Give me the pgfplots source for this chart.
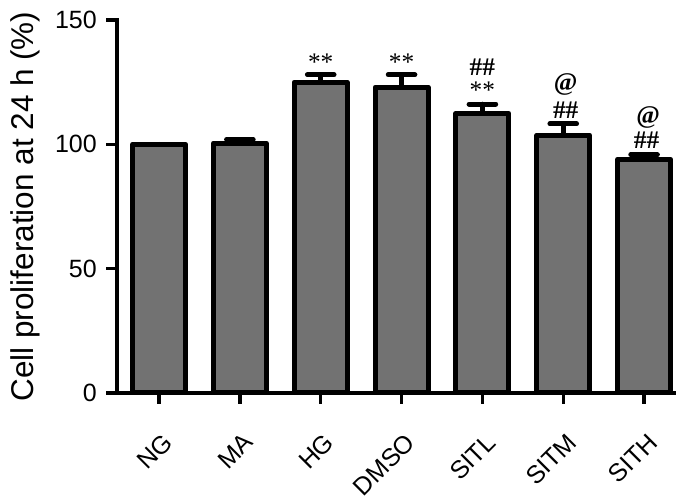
\documentclass[border=0pt]{standalone}
\usepackage{pgfplots}
\pgfplotsset{compat=1.18}
\usepackage{fontspec}
\setmainfont{Liberation Sans}
\newfontfamily\annot{Liberation Serif}
\definecolor{barGray}{RGB}{114,114,114}
\begin{document}
\begin{tikzpicture}
\begin{axis}[
  name=ax,
  scale only axis,
  width=417.75pt, height=279.75pt,
  xmin=-0.52, xmax=6.37,
  ymin=0, ymax=150,
  axis x line*=bottom, axis y line*=left,
  axis line style={line width=2.5pt, line cap=rect},
  xtick={0,1,2,3,4,5,6},
  xticklabels={NG,MA,HG,DMSO,SITL,SITM,SITH},
  ytick={0,50,100,150},
  tick align=outside,
  major tick length=8pt,
  every tick/.style={black, line width=2.5pt},
  /pgf/number format/assume math mode=true,
  tick label style={font=\fontsize{18.75}{20}\selectfont},
  yticklabel style={inner sep=0pt, xshift=-7pt},
  xticklabel style={xshift=2pt, yshift=-21pt, rotate=45, anchor=north east, inner sep=0pt},
  ylabel={Cell proliferation at 24 h (\%)},
  every axis y label/.style={at={(axis description cs:0,0.5)}, xshift=-69pt, rotate=90, anchor=center, font=\fontsize{23.6}{26}\selectfont},
  clip=false,
]
\addplot[ybar, bar width=39.75pt, fill=barGray, draw=black, line width=3.75pt, line join=round,
  error bars/.cd, y dir=plus, y explicit,
  error bar style={line width=3.5pt, line cap=round, black},
  error mark options={line width=3.7pt, line cap=round, mark size=10pt, black, rotate=90}]
  coordinates {
  (0,100) +- (0,0)
  (1,100.5) +- (0,1.5)
  (2,125) +- (0,3)
  (3,123) +- (0,5)
  (4,112.4) +- (0,3.8)
  (5,103.7) +- (0,4.5)
  (6,94) +- (0,1.8)
  };
\begin{scope}[every node/.style={font=\annot\fontsize{19}{21}\selectfont, inner sep=0pt}]
\node at (axis cs:2,133) {**};
\node at (axis cs:3,133) {**};
\node at (axis cs:4,131) {\textbf{\#\#}};
\node at (axis cs:4,121.8) {**};
\node at (axis cs:5.03,124) {\textbf{@}};
\node at (axis cs:5.03,113.8) {\textbf{\#\#}};
\node at (axis cs:6.05,111) {\textbf{@}};
\node at (axis cs:6.03,101.7) {\textbf{\#\#}};
\end{scope}
\end{axis}
\path (ax.south west) ++(-87.75pt,-77.25pt) rectangle ++(522.75pt,372pt);
\end{tikzpicture}
\end{document}
